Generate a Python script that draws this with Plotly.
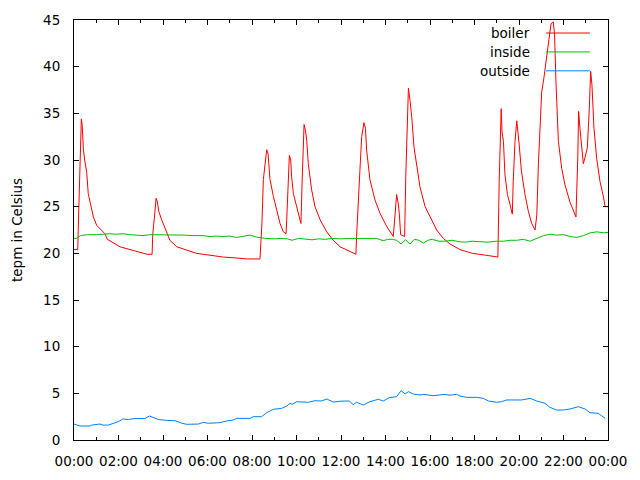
import pandas as pd
import plotly.graph_objects as go

# ---- data (hours since midnight, degrees Celsius) ----
boiler_h = [0.0, 0.17, 0.19, 0.24, 0.28, 0.33, 0.37, 0.42, 0.48, 0.57, 0.64, 0.72, 0.87, 1.02, 1.24, 1.39, 1.5,
            1.77, 2.07, 2.52, 2.97, 3.29, 3.51, 3.54, 3.61, 3.69, 3.74, 3.81, 3.94, 4.17, 4.31, 4.62, 4.99, 5.51,
            6.11, 6.71, 7.31, 7.76, 8.36, 8.39, 8.45, 8.51, 8.58, 8.66, 8.72, 8.81, 8.96, 9.11, 9.26, 9.41, 9.53,
            9.56, 9.63, 9.68, 9.74, 9.78, 9.86, 10.01, 10.2, 10.26, 10.34, 10.4, 10.46, 10.53, 10.68, 10.83, 11.06,
            11.36, 11.65, 11.96, 12.4, 12.67, 12.7, 12.78, 12.85, 12.93, 13.03, 13.1, 13.15, 13.3, 13.53, 13.75,
            14.05, 14.35, 14.43, 14.5, 14.57, 14.62, 14.68, 14.86, 14.91, 14.98, 15.03, 15.1, 15.18, 15.28, 15.4,
            15.55, 15.78, 16.0, 16.3, 16.6, 16.9, 17.35, 17.9, 18.5, 19.05, 19.11, 19.18, 19.2, 19.24, 19.3, 19.37,
            19.48, 19.6, 19.7, 19.74, 19.82, 19.9, 19.94, 20.01, 20.11, 20.27, 20.42, 20.57, 20.72, 20.8, 20.87,
            20.94, 21.02, 21.12, 21.25, 21.36, 21.44, 21.54, 21.6, 21.66, 21.77, 21.92, 22.07, 22.29, 22.56, 22.64,
            22.68, 22.74, 22.82, 22.89, 22.96, 23.07, 23.16, 23.22, 23.28, 23.37, 23.49, 23.64, 23.79, 23.87, 24.0]
boiler_v = [20.4, 20.4, 22.6, 27.3, 32.1, 34.4, 33.7, 31.2, 30.0, 28.7, 26.4, 25.4, 23.9, 23.0, 22.4, 22.1, 21.5,
            21.1, 20.7, 20.4, 20.1, 19.9, 19.9, 22.1, 23.7, 25.9, 25.6, 24.5, 23.6, 22.1, 21.4, 20.7, 20.4, 20.0,
            19.8, 19.6, 19.5, 19.4, 19.4, 20.7, 23.4, 27.9, 29.8, 31.1, 30.7, 27.9, 26.1, 24.5, 23.2, 22.3, 22.1,
            23.6, 27.9, 30.5, 30.0, 28.2, 26.4, 25.0, 23.2, 28.2, 33.8, 33.2, 32.1, 29.6, 26.8, 25.0, 23.6,
            22.3, 21.4, 20.7, 20.2, 19.9, 21.8, 25.0, 28.9, 32.5, 34.0, 33.4, 31.1, 27.9, 25.7, 24.3,
            22.9, 21.8, 23.9, 26.3, 25.4, 24.3, 22.0, 21.8, 28.2, 35.0, 37.7, 36.4, 34.6, 31.4, 29.3,
            27.1, 25.0, 23.9, 22.5, 21.6, 21.0, 20.4, 20.0, 19.8, 19.6, 27.7, 32.7, 35.5, 33.0, 32.0, 28.4,
            26.3, 25.2, 24.2, 27.7, 32.0, 34.2, 33.4, 31.6, 28.8, 26.3, 24.5, 23.2, 22.5, 24.1, 29.5,
            34.1, 37.3, 38.8, 41.3, 43.4, 44.6, 44.8, 43.4, 38.4, 32.0, 29.1, 27.3, 25.5, 23.9, 30.2,
            35.2, 33.4, 30.9, 29.6, 30.2, 31.3, 35.5, 39.5, 38.0, 33.4, 30.2, 27.7, 26.1, 25.0, 25.0]

inside_h = [0.0, 0.1, 0.3, 0.6, 1.0, 1.3, 1.6, 1.9, 2.2, 2.5, 2.8, 3.1, 3.4, 3.6, 3.9, 4.2, 4.6, 5.0, 5.3, 5.8,
            6.1, 6.4, 6.7, 7.0, 7.3, 7.6, 7.9, 8.2, 8.6, 9.0, 9.3, 9.6, 9.8, 10.1, 10.4, 10.7, 11.0, 11.3, 11.6,
            12.0, 12.4, 12.7, 13.0, 13.3, 13.6, 13.9, 14.1, 14.3, 14.5, 14.7, 14.9, 15.1, 15.3, 15.5, 15.7, 15.9,
            16.1, 16.4, 16.7, 17.0, 17.3, 17.6, 17.9, 18.2, 18.6, 19.0, 19.3, 19.6, 19.9, 20.2, 20.5, 20.8, 21.1,
            21.4, 21.7, 22.0, 22.3, 22.6, 22.9, 23.2, 23.5, 23.8, 24.0]
inside_v = [21.6, 21.6, 21.9, 22.0, 22.0, 22.05, 22.1, 22.05, 22.1, 22.0, 21.95, 21.9, 22.0, 22.0, 22.0, 22.0,
            21.95, 21.95, 21.9, 21.9, 21.8, 21.85, 21.8, 21.85, 21.7, 21.8, 21.95, 21.75, 21.6, 21.55, 21.6, 21.55,
            21.4, 21.6, 21.5, 21.45, 21.55, 21.5, 21.6, 21.55, 21.6, 21.6, 21.6, 21.55, 21.6, 21.35, 21.5, 21.5,
            21.4, 21.0, 21.45, 21.0, 21.5, 21.4, 21.1, 21.4, 21.5, 21.3, 21.3, 21.4, 21.25, 21.2, 21.3, 21.25,
            21.2, 21.3, 21.3, 21.4, 21.4, 21.5, 21.3, 21.6, 21.9, 22.05, 21.95, 22.0, 21.8, 21.7, 21.9, 22.2,
            22.3, 22.2, 22.25]

outside_h = [0.0, 0.27, 0.72, 0.8, 1.17, 1.3, 1.54, 1.77, 1.99, 2.19, 2.44, 2.74, 3.19, 3.39, 3.55, 3.79, 4.16,
             4.54, 4.84, 5.06, 5.59, 5.81, 6.04, 6.56, 6.86, 7.16, 7.31, 7.91, 8.06, 8.43, 8.66, 8.96, 9.33, 9.56,
             9.71, 9.8, 10.01, 10.53, 10.83, 11.13, 11.36, 11.65, 12.0, 12.37, 12.55, 12.7, 13.0, 13.3, 13.68,
             13.9, 14.17, 14.5, 14.7, 14.88, 15.03, 15.25, 15.55, 15.7, 16.15, 16.67, 16.9, 17.2, 17.35, 17.65,
             18.1, 18.4, 18.62, 19.0, 19.22, 19.45, 20.12, 20.5, 20.8, 21.17, 21.39, 21.69, 21.99, 22.29, 22.67,
             22.97, 23.19, 23.56, 23.87]
outside_v = [1.71, 1.5, 1.5, 1.6, 1.71, 1.6, 1.6, 1.8, 1.96, 2.25, 2.2, 2.3, 2.3, 2.57, 2.43, 2.2, 2.1,
             2.07, 1.8, 1.68, 1.71, 1.89, 1.79, 1.86, 2.04, 2.14, 2.32, 2.32, 2.5, 2.5, 2.93, 3.29, 3.39, 3.64,
             3.93, 3.82, 4.1, 4.04, 4.21, 4.18, 4.39, 4.07, 4.16, 4.18, 3.79, 4.04, 3.75, 4.11, 4.36,
             4.18, 4.54, 4.64, 5.29, 4.93, 5.18, 4.93, 4.82, 4.89, 4.75, 4.89, 4.8, 4.89, 4.71, 4.57,
             4.57, 4.46, 4.18, 4.04, 4.11, 4.29, 4.29, 4.46, 4.18, 3.93, 3.5, 3.21, 3.21, 3.32, 3.57,
             3.32, 2.93, 2.86, 2.32]

series_names = ["boiler", "inside", "outside"]
series_colors = ["#ff0000", "#00c000", "#0080ff"]
y_title = "tepm in Celsius"
x_tick_format = "%H:%M"

base = pd.Timestamp("2013-01-01 00:00")


def to_time(hours):
    return [base + pd.Timedelta(hours=h) for h in hours]


FONT = "DejaVu Sans, sans-serif"
FS = 13.5

fig = go.Figure()
data = [(boiler_h, boiler_v), (inside_h, inside_v), (outside_h, outside_v)]
for (hx, vy), name, col in zip(data, series_names, series_colors):
    fig.add_trace(go.Scatter(x=to_time(hx), y=vy, mode="lines", name=name,
                             line=dict(color=col, width=1), showlegend=False))

# gnuplot-style legend: right-aligned text, line sample on the right
legend_rows = [0.969, 0.924, 0.879]
for name, col, yy in zip(series_names, series_colors, legend_rows):
    fig.add_annotation(text=name, xref="paper", yref="paper", x=0.8577, y=yy,
                       xanchor="right", yanchor="middle", showarrow=False,
                       font=dict(family=FONT, size=FS, color="black"))
    fig.add_shape(type="line", xref="paper", yref="paper", x0=0.884, x1=0.966, y0=yy, y1=yy,
                  line=dict(color=col, width=1))

fig.update_layout(
    width=640, height=480,
    margin=dict(l=74, r=32, t=20, b=40, autoexpand=False),
    paper_bgcolor="white", plot_bgcolor="white",
    font=dict(family=FONT, size=FS, color="black"),
    showlegend=False,
)
fig.update_xaxes(
    type="date", range=[base, base + pd.Timedelta(hours=24)],
    tickformat=x_tick_format, tick0=base, dtick=2 * 3600 * 1000,
    ticks="inside", ticklen=5, tickcolor="black",
    minor=dict(dtick=3600 * 1000, ticks="inside", ticklen=3, tickcolor="black", showgrid=False),
    showline=True, linecolor="black", linewidth=1, mirror="allticks",
    showgrid=False, zeroline=False, ticklabelstandoff=9, automargin=False,
    tickfont=dict(family=FONT, size=FS, color="black"),
)
fig.update_yaxes(
    range=[0, 45], dtick=5, tick0=0,
    ticks="inside", ticklen=5, tickcolor="black",
    showline=True, linecolor="black", linewidth=1, mirror="allticks",
    showgrid=False, zeroline=False, ticklabelstandoff=10, automargin=False,
    tickfont=dict(family=FONT, size=FS, color="black"),
    title=dict(text=y_title, font=dict(family=FONT, size=FS, color="black"), standoff=17),
)

fig.write_html("out.html")
